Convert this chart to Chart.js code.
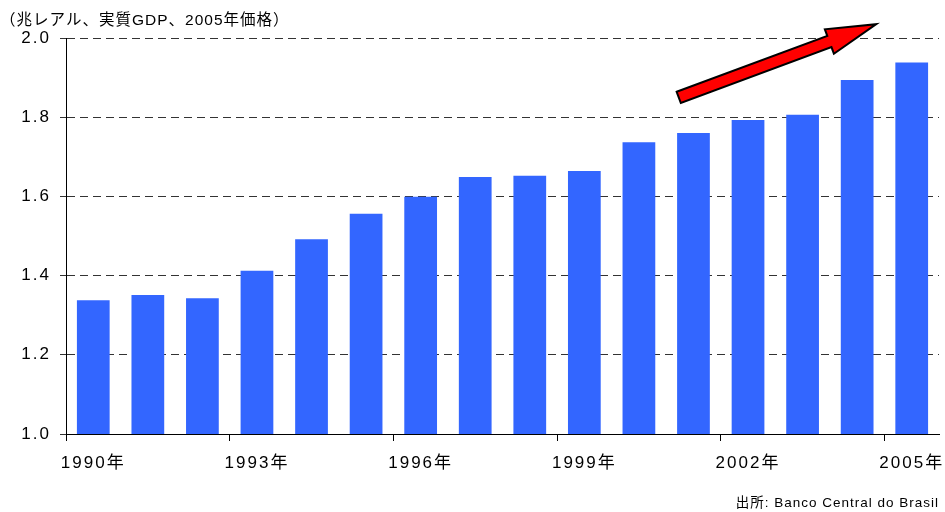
<!DOCTYPE html>
<html lang="ja">
<head>
<meta charset="utf-8">
<title>ブラジル実質GDP</title>
<script src="https://cdn.jsdelivr.net/npm/chart.js@4/dist/chart.umd.min.js"></script>
<style>
  html, body { margin: 0; padding: 0; background: #fff; }
  #wrap { width: 945px; height: 512px; position: relative; }
</style>
</head>
<body>
<div id="wrap"><canvas id="gdpChart"></canvas></div>
<script>
// 年（カテゴリー）
const years = ['1990年', '1991年', '1992年', '1993年', '1994年', '1995年', '1996年', '1997年',
               '1998年', '1999年', '2000年', '2001年', '2002年', '2003年', '2004年', '2005年'];
// 実質GDP（兆レアル、2005年価格）
const gdp = [1.338, 1.351, 1.343, 1.412, 1.492, 1.556, 1.599, 1.649,
             1.652, 1.664, 1.737, 1.760, 1.793, 1.806, 1.894, 1.938];
// 縦軸の範囲
const yMin = 1.0;
const yMax = 2.0;
const yStep = 0.2;

const titleText = '（兆レアル、実質GDP、2005年価格）';
const sourceText = '出所: Banco Central do Brasil';

const FONT = "'Liberation Sans', 'Noto Sans CJK JP', sans-serif";
Chart.defaults.font.family = FONT;
Chart.defaults.color = '#000';

// 文字間隔（目盛りラベルは少し広め）
const spacingPlugin = {
    id: 'spacing',
    beforeDraw(chart) { chart.ctx.letterSpacing = '1px'; },
    afterDatasetsDraw(chart) { chart.ctx.letterSpacing = '2px'; },
    afterDraw(chart) { chart.ctx.letterSpacing = '0px'; }
};

// 右上がりの赤い矢印（軸の値で位置指定）
const arrowPlugin = {
    id: 'trendArrow',
    afterDraw(chart) {
        const { ctx, scales: { x, y } } = chart;
        const x0 = x.getPixelForValue(10.73), y0 = y.getPixelForValue(1.85);
        const x1 = x.getPixelForValue(14.35), y1 = y.getPixelForValue(2.035);
        const dx = x1 - x0, dy = y1 - y0;
        const len = Math.hypot(dx, dy);
        const ux = dx / len, uy = dy / len;
        const nx = -uy, ny = ux;
        const shaft = 6, head = 13, headLen = 50;
        const pts = [
            [0, -shaft], [len - headLen, -shaft], [len - headLen, -head],
            [len, 0],
            [len - headLen, head], [len - headLen, shaft], [0, shaft]
        ];
        ctx.save();
        ctx.beginPath();
        pts.forEach(([u, v], i) => {
            const px = x0 + ux * u + nx * v;
            const py = y0 + uy * u + ny * v;
            if (i === 0) ctx.moveTo(px, py); else ctx.lineTo(px, py);
        });
        ctx.closePath();
        ctx.fillStyle = '#FF0000';
        ctx.fill();
        ctx.lineWidth = 2;
        ctx.lineJoin = 'miter';
        ctx.strokeStyle = '#000';
        ctx.stroke();
        ctx.restore();
    }
};

const ctx = document.getElementById('gdpChart');
new Chart(ctx, {
    type: 'bar',
    data: {
        labels: years,
        datasets: [{
            data: gdp,
            backgroundColor: '#3366FF',
            borderWidth: 0,
            barPercentage: 0.6,
            categoryPercentage: 1.0
        }]
    },
    plugins: [spacingPlugin, arrowPlugin],
    options: {
        responsive: true,
        maintainAspectRatio: false,
        animation: false,
        layout: { padding: { left: 0, right: 6, top: 0, bottom: 0 } },
        plugins: {
            legend: { display: false },
            tooltip: { enabled: false },
            title: {
                display: true,
                text: titleText,
                align: 'start',
                color: '#000',
                font: { size: 15.5, weight: 'normal', lineHeight: '18px' },
                padding: { top: 12, bottom: 8 }
            },
            subtitle: {
                display: true,
                text: sourceText,
                position: 'bottom',
                align: 'end',
                color: '#000',
                font: { size: 13.5, weight: 'normal', lineHeight: '16px' },
                padding: { top: 0, bottom: 1 }
            }
        },
        scales: {
            x: {
                afterFit(scale) {
                    scale.height = 61;
                    // 端のラベルで作図領域が縮まないように
                    scale.paddingLeft = 0;
                    scale.paddingRight = 0;
                },
                grid: {
                    display: true,
                    drawOnChartArea: false,
                    offset: true,
                    tickLength: 7,
                    tickColor: (c) => (c.index % 3 === 0 ? '#000' : 'rgba(0,0,0,0)')
                },
                border: { display: true, color: '#000', width: 1, z: 1 },
                ticks: {
                    autoSkip: false,
                    maxRotation: 0,
                    minRotation: 0,
                    padding: 12,
                    z: 1,
                    font: { size: 17 },
                    callback: (v, i) => (i % 3 === 0 ? years[i] : '')
                }
            },
            y: {
                min: yMin,
                max: yMax,
                afterFit(scale) { scale.width = 66; },
                grid: {
                    color: '#333',
                    lineWidth: 1,
                    tickLength: 6,
                    tickColor: '#333',
                    tickBorderDash: []
                },
                border: { display: true, color: '#000', width: 1, dash: [8, 5] },
                ticks: {
                    stepSize: yStep,
                    padding: 9,
                    z: 1,
                    font: { size: 17 },
                    callback: (v) => v.toFixed(1)
                }
            }
        }
    }
});
</script>
</body>
</html>
